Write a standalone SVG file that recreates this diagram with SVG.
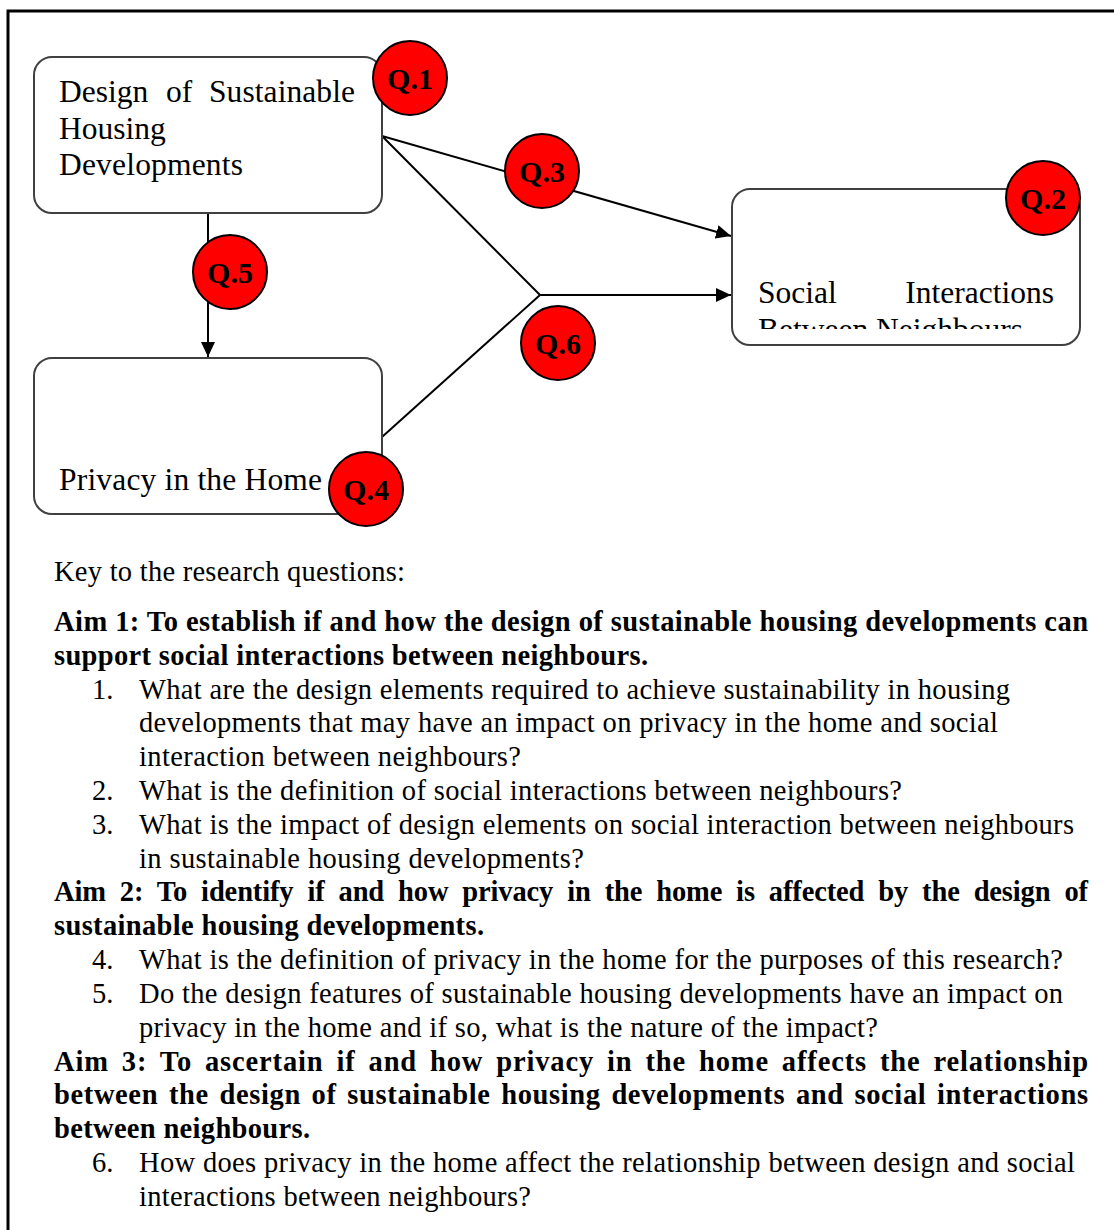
<svg xmlns="http://www.w3.org/2000/svg" width="1114" height="1230" viewBox="0 0 1114 1230">
<style>
.box{fill:#fff;stroke:#404040;stroke-width:2}
.q{fill:#ff0000;stroke:#000;stroke-width:2}
.ql{font-family:"Liberation Serif","Times New Roman",serif;font-weight:bold;font-size:30px;text-anchor:middle;fill:#000}
.bt{font-family:"Liberation Serif","Times New Roman",serif;font-size:31.5px;fill:#000}
.t{font-family:"Liberation Serif","Times New Roman",serif;font-size:28.5px;fill:#000}
.b{font-weight:bold}
.ln{stroke:#000;stroke-width:2;fill:none}
</style>
<defs>
<marker id="ah" markerUnits="userSpaceOnUse" markerWidth="15" markerHeight="14" viewBox="0 0 15 14" refX="15" refY="7" orient="auto">
<path d="M0,0 L15,7 L0,14 z" fill="#000"/>
</marker>
<clipPath id="clipS"><rect x="733" y="190" width="346" height="139"/></clipPath>
</defs>
<rect x="0" y="0" width="1114" height="1230" fill="#fff"/>
<path d="M8,1232 V11 H1116" fill="none" stroke="#000" stroke-width="3"/>

<g id="connectors">
<line class="ln" x1="382" y1="136" x2="731" y2="236" marker-end="url(#ah)"/>
<polyline class="ln" points="382,136 540,295 731,295" marker-end="url(#ah)"/>
<line class="ln" x1="382" y1="437" x2="540" y2="295"/>
<line class="ln" x1="208" y1="213" x2="208" y2="357" marker-end="url(#ah)"/>
</g>

<g id="node-design">
<rect class="box" x="34" y="57" width="348" height="156" rx="18"/>
<text class="bt" y="102"><tspan x="59">Design</tspan><tspan x="166">of</tspan><tspan x="209" textLength="146" lengthAdjust="spacing">Sustainable</tspan></text>
<text class="bt" x="59" y="139">Housing</text>
<text class="bt" x="59" y="175" textLength="184" lengthAdjust="spacing">Developments</text>
</g>

<g id="node-social">
<rect class="box" x="732" y="189" width="348" height="156" rx="18"/>
<g clip-path="url(#clipS)">
<text class="bt" x="758" y="303">Social</text>
<text class="bt" x="1054" y="303" text-anchor="end">Interactions</text>
<text class="bt" x="758" y="340">Between Neighbours</text>
</g>
</g>

<g id="node-privacy">
<rect class="box" x="34" y="358" width="348" height="156" rx="18"/>
<text class="bt" x="59" y="490" textLength="263" lengthAdjust="spacing">Privacy in the Home</text>
</g>

<g id="q1"><circle class="q" cx="410" cy="78" r="37"/><text class="ql" x="410" y="89">Q.1</text></g>
<g id="q2"><circle class="q" cx="1043" cy="198" r="37"/><text class="ql" x="1043" y="209">Q.2</text></g>
<g id="q3"><circle class="q" cx="542" cy="171" r="37"/><text class="ql" x="542" y="182">Q.3</text></g>
<g id="q5"><circle class="q" cx="230" cy="272" r="37"/><text class="ql" x="230" y="283">Q.5</text></g>
<g id="q6"><circle class="q" cx="558" cy="343" r="37"/><text class="ql" x="558" y="354">Q.6</text></g>
<g id="q4"><circle class="q" cx="366" cy="489" r="37"/><text class="ql" x="366" y="500">Q.4</text></g>

<g id="key">
<text class="t" x="54" y="581" textLength="351" lengthAdjust="spacing">Key to the research questions:</text>
<text class="t b" x="54" y="631" textLength="1034" lengthAdjust="spacing">Aim 1: To establish if and how the design of sustainable housing developments can</text>
<text class="t b" x="54" y="665" textLength="594" lengthAdjust="spacing">support social interactions between neighbours.</text>
<text class="t" x="92" y="699">1.</text>
<text class="t" x="139" y="699" textLength="871" lengthAdjust="spacing">What are the design elements required to achieve sustainability in housing</text>
<text class="t" x="139" y="732" textLength="859" lengthAdjust="spacing">developments that may have an impact on privacy in the home and social</text>
<text class="t" x="139" y="766" textLength="382" lengthAdjust="spacing">interaction between neighbours?</text>
<text class="t" x="92" y="800">2.</text>
<text class="t" x="139" y="800" textLength="763" lengthAdjust="spacing">What is the definition of social interactions between neighbours?</text>
<text class="t" x="92" y="834">3.</text>
<text class="t" x="139" y="834" textLength="935" lengthAdjust="spacing">What is the impact of design elements on social interaction between neighbours</text>
<text class="t" x="139" y="868" textLength="445" lengthAdjust="spacing">in sustainable housing developments?</text>
<text class="t b" x="54" y="901" textLength="1034" lengthAdjust="spacing" word-spacing="7">Aim 2: To identify if and how privacy in the home is affected by the design of</text>
<text class="t b" x="54" y="935" textLength="430" lengthAdjust="spacing">sustainable housing developments.</text>
<text class="t" x="92" y="969">4.</text>
<text class="t" x="139" y="969" textLength="924" lengthAdjust="spacing">What is the definition of privacy in the home for the purposes of this research?</text>
<text class="t" x="92" y="1003">5.</text>
<text class="t" x="139" y="1003" textLength="924" lengthAdjust="spacing">Do the design features of sustainable housing developments have an impact on</text>
<text class="t" x="139" y="1037" textLength="739" lengthAdjust="spacing">privacy in the home and if so, what is the nature of the impact?</text>
<text class="t b" x="54" y="1071" textLength="1034" lengthAdjust="spacing" word-spacing="5">Aim 3: To ascertain if and how privacy in the home affects the relationship</text>
<text class="t b" x="54" y="1104" textLength="1034" lengthAdjust="spacing" word-spacing="3">between the design of sustainable housing developments and social interactions</text>
<text class="t b" x="54" y="1138" textLength="256" lengthAdjust="spacing">between neighbours.</text>
<text class="t" x="92" y="1172">6.</text>
<text class="t" x="139" y="1172" textLength="936" lengthAdjust="spacing">How does privacy in the home affect the relationship between design and social</text>
<text class="t" x="139" y="1206" textLength="392" lengthAdjust="spacing">interactions between neighbours?</text>
</g>
</svg>
